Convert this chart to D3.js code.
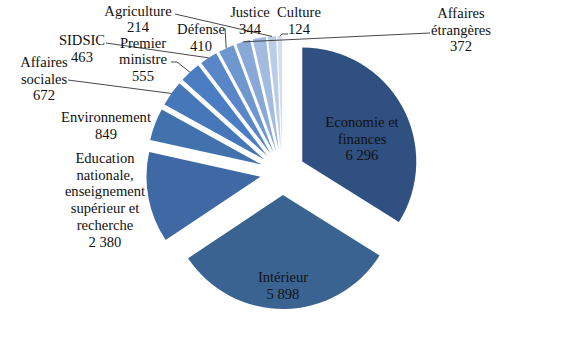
<!DOCTYPE html>
<html>
<head>
<meta charset="utf-8">
<script src="https://cdn.jsdelivr.net/npm/d3@7"></script>
<style>
  html, body { margin: 0; padding: 0; background: #fff; }
  svg { display: block; }
</style>
</head>
<body>
<svg id="chart" width="566" height="346"></svg>
<script>
// Ministries and their counts, clockwise from 12 o'clock
const ministeres = [
  "Economie et finances", "Intérieur",
  "Education nationale, enseignement supérieur et recherche",
  "Environnement", "Affaires sociales", "Premier ministre", "SIDSIC",
  "Défense", "Affaires étrangères", "Justice", "Agriculture", "Culture"
];
const effectifs = [6296, 5898, 2380, 849, 672, 555, 463, 410, 372, 344, 214, 124];
const couleurs = [
  "#2f5080", "#3a6391", "#3e69a4", "#4272ae", "#4677b9", "#4a7dc2",
  "#5886c8", "#6e96cf", "#88a8d8", "#a2bbe0", "#bacde8", "#d2def1"
];
// Label text broken into lines (value formatted on the last line)
const lignesEtiquettes = [
  ["Economie et", "finances"], ["Intérieur"],
  ["Education", "nationale,", "enseignement", "supérieur et", "recherche"],
  ["Environnement"], ["Affaires", "sociales"], ["Premier", "ministre"], ["SIDSIC"],
  ["Défense"], ["Affaires", "étrangères"], ["Justice"], ["Agriculture"], ["Culture"]
];

// Layout
const cx = 282.6, cy = 172.5, radius = 114, explode = 22.5, lh = 16.7;
// label anchor: centre x, first baseline y
const labelPos = [
  [362, 127], [283, 282], [105, 163], [106, 122], [44, 67], [143, 47.5],
  [82, 45], [201, 34], [461, 18], [250, 17], [138, 15.5], [299, 17]
];
// leader line start points (null = no leader)
const leaderStart = [
  null, null, null, null,
  [[68, 80]], [[171, 62], [177, 62]], [[106, 43]], [[225, 28]],
  [[430, 33]], null, [[175, 14]], [[288, 34], [282, 34]]
];

// thousands separated by a plain space: 6 296
const fmt = v => d3.format(",")(v).replace(/,/g, " ");

const svg = d3.select("#chart");
const g = svg.append("g").attr("transform", `translate(${cx},${cy})`);

const pie = d3.pie().sort(null).value(d => d.v);
const data = ministeres.map((name, i) => ({ name, v: effectifs[i], i }));
const arcs = pie(data);
const arc = d3.arc().innerRadius(0).outerRadius(radius);

const dir = a => [Math.sin(a), -Math.cos(a)];

g.selectAll("path.slice")
  .data(arcs)
  .join("path")
  .attr("class", "slice")
  .attr("d", arc)
  .attr("fill", d => couleurs[d.data.i])
  .attr("transform", d => {
    const m = (d.startAngle + d.endAngle) / 2;
    const [dx, dy] = dir(m);
    return `translate(${dx * explode},${dy * explode})`;
  });

// Leader lines from labels to the outer edge of each exploded slice
const line = d3.line();
arcs.forEach(d => {
  const pts = leaderStart[d.data.i];
  if (!pts) return;
  const m = (d.startAngle + d.endAngle) / 2;
  const [dx, dy] = dir(m);
  const end = [cx + dx * (explode + radius), cy + dy * (explode + radius)];
  svg.append("path")
    .attr("d", line([...pts, end]))
    .attr("fill", "none")
    .attr("stroke", "#333")
    .attr("stroke-width", 0.9);
});

// Labels: one text element per line
const labels = svg.append("g").attr("class", "labels");
arcs.forEach(d => {
  const i = d.data.i;
  const lines = [...lignesEtiquettes[i], fmt(effectifs[i])];
  const [x, y] = labelPos[i];
  lines.forEach((s, k) => {
    labels.append("text")
      .attr("x", x)
      .attr("y", y + k * lh)
      .attr("text-anchor", "middle")
      .style("font-family", '"Liberation Serif"')
      .style("font-size", "14.6px")
      .style("fill", "#111")
      .text(s);
  });
});
</script>
</body>
</html>
